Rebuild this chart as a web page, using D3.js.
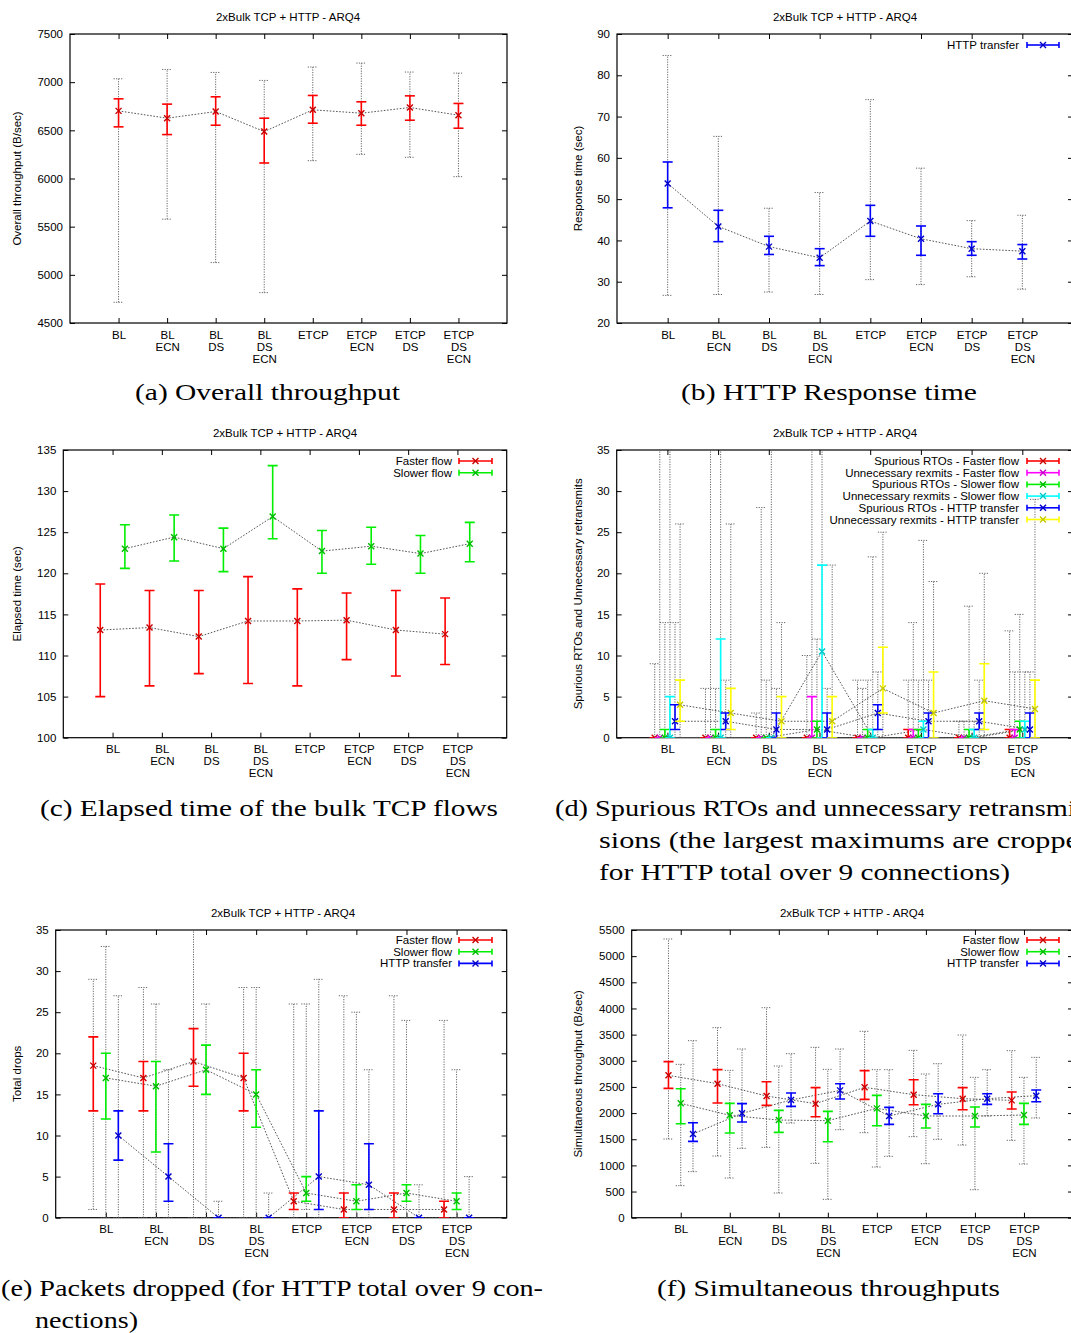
<!DOCTYPE html>
<html>
<head>
<meta charset="utf-8">
<script src="https://cdn.jsdelivr.net/npm/d3@7"></script>
<style>
  body { margin: 0; background: #fff; }
  svg { display: block; }
</style>
</head>
<body>
<svg id="fig" width="1071" height="1333"></svg>
<script>
// ---- categories and titles ----
const categories = [["BL"], ["BL", "ECN"], ["BL", "DS"], ["BL", "DS", "ECN"],
                    ["ETCP"], ["ETCP", "ECN"], ["ETCP", "DS"], ["ETCP", "DS", "ECN"]];
const chartTitle = "2xBulk TCP + HTTP - ARQ4";

// rows per category: [mean, ciLow, ciHigh, min, max]
const overallThroughput = [
  [6702, 6536, 6827, 4715, 7035], [6626, 6456, 6772, 5578, 7132],
  [6695, 6553, 6848, 5127, 7101], [6487, 6161, 6626, 4815, 7018],
  [6713, 6574, 6862, 6185, 7157], [6678, 6553, 6796, 6251, 7198],
  [6737, 6605, 6858, 6220, 7105], [6657, 6522, 6779, 6019, 7094]
];
const httpResponse = [
  [53.8, 47.9, 59.0, 26.7, 84.8], [43.4, 39.7, 47.3, 26.9, 65.2],
  [38.5, 36.6, 41.0, 27.5, 47.8], [35.8, 33.9, 38.0, 26.9, 51.6],
  [44.7, 41.0, 48.5, 30.5, 74.1], [40.4, 36.4, 43.5, 29.3, 57.5],
  [38.0, 36.4, 39.7, 31.2, 44.8], [37.4, 35.5, 39.0, 28.2, 46.1]
];

// rows per category: [mean, ciLow, ciHigh]
const elapsedFaster = [
  [113.1, 105.0, 118.7], [113.4, 106.3, 117.9], [112.3, 107.8, 117.9], [114.2, 106.6, 119.6],
  [114.2, 106.3, 118.1], [114.3, 109.5, 117.6], [113.1, 107.5, 117.9], [112.6, 108.9, 117.0]
];
const elapsedSlower = [
  [123.0, 120.6, 125.9], [124.4, 121.5, 127.1], [123.0, 120.2, 125.5], [126.9, 124.2, 133.1],
  [122.7, 120.0, 125.2], [123.3, 121.1, 125.6], [122.4, 120.0, 124.6], [123.6, 121.4, 126.2]
];

// spurious RTOs / unnecessary retransmits: [mean, ciLow, ciHigh, min, max]
const spuriousFaster = [
  [0, 0, 0, 0, 9], [0, 0, 0, 0, 6], [0, 0, 0, 0, 3], [0, 0, 0, 0, 10],
  [0, 0, 0, 0, 7], [0, 0, 1, 0, 7], [0, 0, 0, 0, 2], [0, 0, 1, 0, 13]
];
const unnecessaryFaster = [
  [0, 0, 0, 0, 40], [0, 0, 0, 0, 40], [0, 0, 0, 0, 28], [0, 0, 5, 0, 40],
  [0, 0, 0, 0, 6], [0, 0, 1, 0, 14], [0, 0, 0, 0, 2], [0, 0, 1, 0, 8]
];
const spuriousSlower = [
  [0, 0, 1, 0, 14], [0, 0, 1, 0, 6], [0, 0, 0, 0, 7], [1, 0, 2, 0, 12],
  [0, 0, 1, 0, 7], [0, 0, 1, 0, 7], [0, 0, 1, 0, 16], [1, 0, 2, 0, 15]
];
const unnecessarySlower = [
  [0, 0, 5, 0, 40], [0, 0, 12, 0, 40], [0, 0, 0, 0, 40], [10.5, 0, 21, 0, 40],
  [0, 0, 1, 0, 22], [1, 0, 2, 0, 24], [0, 0, 1, 0, 2], [1, 0, 2, 0, 8]
];
const spuriousHttp = [
  [2, 1, 4, 0, 14], [2, 1, 3, 0, 7], [1, 0, 3, 0, 6], [1, 0, 3, 0, 6],
  [3, 1, 4, 0, 8], [2, 0, 3, 0, 7], [2, 1, 3, 0, 7], [1, 0, 3, 0, 8]
];
const unnecessaryHttp = [
  [4, 2, 7, 0, 26], [3, 1, 6, 0, 26], [2, 0, 5, 0, 14], [2, 0, 5, 0, 21],
  [6, 3, 11, 0, 25], [3, 0, 8, 0, 19], [4.5, 1, 9, 0, 20], [3.5, 0, 7, 0, 29]
];

// total drops: [mean, ciLow, ciHigh, min, max]
const dropsFaster = [
  [18.5, 13, 22, 1, 29], [17, 13, 19, 0, 28], [19, 16, 23, 0, 35], [17, 13, 20, 0, 28],
  [2, 1, 3, 0, 26], [1, 0, 3, 0, 27], [1, 0, 3, 0, 27], [1, 0, 2, 0, 24]
];
const dropsSlower = [
  [17, 12, 20, 0, 33], [16, 8, 19, 0, 26], [18, 15, 21, 0, 26], [15, 11, 18, 0, 28],
  [3, 2, 5, 1, 26], [2, 1, 4, 0, 25], [3, 2, 4, 0, 24], [2, 1, 3, 0, 18]
];
const dropsHttp = [
  [10, 7, 13, 0, 27], [5, 2, 9, 0, 18], [0, 0, 0, 0, 2], [0, 0, 0, 0, 3],
  [5, 1, 13, 0, 29], [4, 1, 9, 0, 18], [0, 0, 0, 0, 4], [0, 0, 0, 0, 5]
];

// simultaneous throughput (B/sec): [mean, ciLow, ciHigh, min, max]
const simFaster = [
  [2721, 2473, 2983, 1504, 5328], [2562, 2192, 2830, 1179, 3633],
  [2326, 2148, 2600, 1345, 4015], [2180, 1931, 2486, 1039, 3257],
  [2492, 2262, 2811, 1625, 3563], [2352, 2160, 2638, 1549, 3199],
  [2275, 2065, 2486, 1389, 3492], [2243, 2078, 2403, 1479, 3193]
];
const simSlower = [
  [2186, 1797, 2466, 612, 2932], [1957, 1619, 2186, 758, 2817],
  [1867, 1632, 2052, 472, 2900], [1855, 1453, 2033, 351, 2836],
  [2090, 1759, 2339, 969, 2830], [1944, 1714, 2167, 1032, 2747],
  [1944, 1733, 2116, 535, 2683], [1963, 1784, 2186, 1026, 2683]
];
const simHttp = [
  [1600, 1459, 1816, 880, 3384], [1995, 1829, 2180, 1326, 3225],
  [2250, 2129, 2384, 1810, 3136], [2434, 2269, 2562, 1682, 3225],
  [1944, 1784, 2109, 1173, 2830], [2167, 1988, 2371, 1498, 2944],
  [2275, 2167, 2371, 1944, 2830], [2333, 2218, 2441, 1906, 3065]
];

// ---- drawing ----
const SANS = "'Liberation Sans', Arial, Helvetica, sans-serif";
const SERIF = "'Liberation Serif', 'Times New Roman', serif";
const FS = 11.5;
const svg = d3.select("#fig");
const defs = svg.append("defs");

const RED = "#ff0000", GREEN = "#00ee00", BLUE = "#0000ff",
      MAGENTA = "#ff00ff", CYAN = "#00ffff", YELLOW = "#ffff00";

function drawPanel(cfg) {
  const [x0, y0, x1, y1] = cfg.box;
  const x = d3.scaleLinear().domain([-1, 8]).range([x0, x1]);
  const y = d3.scaleLinear().domain(cfg.yDomain).range([y1, y0]);
  const g = svg.append("g");
  const clipId = "clip-" + cfg.id;
  defs.append("clipPath").attr("id", clipId)
    .append("rect").attr("x", x0).attr("y", y0).attr("width", x1 - x0).attr("height", y1 - y0);

  const yTicks = d3.range(cfg.yDomain[0], cfg.yDomain[1] + cfg.yStep / 2, cfg.yStep);
  const styleAxis = sel => {
    sel.select(".domain").remove();
    sel.selectAll(".tick line").attr("stroke", "#000");
    sel.selectAll(".tick text").attr("font-family", SANS).attr("font-size", FS).attr("fill", "#000");
  };

  // y axis (left with labels, right mirrored)
  g.append("g").attr("transform", `translate(${x0},0)`)
    .call(d3.axisLeft(y).tickValues(yTicks).tickFormat(d3.format("d"))
      .tickSizeInner(-5).tickSizeOuter(0).tickPadding(7))
    .call(styleAxis);
  g.append("g").attr("transform", `translate(${x1},0)`)
    .call(d3.axisRight(y).tickValues(yTicks).tickSizeInner(-5).tickSizeOuter(0).tickFormat(""))
    .call(styleAxis);

  // x axis (bottom with multi-line labels, top mirrored)
  const xb = g.append("g").attr("transform", `translate(0,${y1})`)
    .call(d3.axisBottom(x).tickValues(d3.range(categories.length)).tickSizeInner(-5).tickSizeOuter(0).tickFormat(""))
    .call(styleAxis);
  xb.selectAll(".tick text").remove();
  xb.selectAll(".tick").append("text")
    .attr("font-family", SANS).attr("font-size", FS).attr("fill", "#000").attr("text-anchor", "middle")
    .each(function (i) {
      d3.select(this).selectAll("tspan").data(categories[i]).join("tspan")
        .attr("x", 0).attr("y", (d, k) => 15.5 + k * 12).text(d => d);
    });
  g.append("g").attr("transform", `translate(0,${y0})`)
    .call(d3.axisTop(x).tickValues(d3.range(categories.length)).tickSizeInner(-5).tickSizeOuter(0).tickFormat(""))
    .call(styleAxis);

  // frame
  g.append("rect").attr("x", x0).attr("y", y0).attr("width", x1 - x0).attr("height", y1 - y0)
    .attr("fill", "none").attr("stroke", "#000").attr("stroke-width", 1.2);

  // title and y label
  g.append("text").attr("x", cfg.titleX).attr("y", cfg.titleY).attr("text-anchor", "middle")
    .attr("font-family", SANS).attr("font-size", FS).text(chartTitle);
  g.append("text").attr("transform", `translate(${cfg.yLabelX},${(y0 + y1) / 2}) rotate(-90)`)
    .attr("text-anchor", "middle").attr("font-family", SANS).attr("font-size", FS).text(cfg.yLabel);

  const plot = g.append("g").attr("clip-path", `url(#${clipId})`);
  const cap = 5;

  // min/max ranges (dotted grey)
  cfg.series.forEach(s => {
    if (s.data[0].length < 5) return;
    const gr = plot.append("g").attr("stroke", "#666").attr("stroke-width", 1)
      .attr("stroke-dasharray", "1.2,1.3").attr("fill", "none");
    s.data.forEach((d, i) => {
      const cx = x(i + s.offset);
      gr.append("line").attr("x1", cx).attr("x2", cx).attr("y1", y(d[3])).attr("y2", y(d[4]));
      gr.append("line").attr("x1", cx - cap).attr("x2", cx + cap).attr("y1", y(d[3])).attr("y2", y(d[3]));
      gr.append("line").attr("x1", cx - cap).attr("x2", cx + cap).attr("y1", y(d[4])).attr("y2", y(d[4]));
    });
  });

  // connecting lines of the means
  cfg.series.forEach(s => {
    plot.append("path").datum(s.data)
      .attr("d", d3.line().x((d, i) => x(i + s.offset)).y(d => y(d[0])))
      .attr("fill", "none").attr("stroke", "#555").attr("stroke-width", 1)
      .attr("stroke-dasharray", "1.6,1.6");
  });

  // confidence intervals and mean markers
  cfg.series.forEach(s => {
    const gc = plot.append("g").attr("stroke", s.color).attr("stroke-width", 1.6).attr("fill", "none");
    s.data.forEach((d, i) => {
      const cx = x(i + s.offset);
      gc.append("line").attr("x1", cx).attr("x2", cx).attr("y1", y(d[1])).attr("y2", y(d[2]));
      gc.append("line").attr("x1", cx - cap).attr("x2", cx + cap).attr("y1", y(d[1])).attr("y2", y(d[1]));
      gc.append("line").attr("x1", cx - cap).attr("x2", cx + cap).attr("y1", y(d[2])).attr("y2", y(d[2]));
      gc.append("path").attr("transform", `translate(${cx},${y(d[0])})`)
        .attr("d", "M-3,-3L3,3M-3,3L3,-3").attr("stroke", d3.color(s.color).darker(0.7)).attr("stroke-width", 1.4);
    });
  });

  // key
  if (cfg.legend) {
    const L = cfg.legend;
    cfg.series.forEach((s, k) => {
      const ly = L.y + k * 11.7;
      g.append("text").attr("x", L.textRight).attr("y", ly).attr("dy", "0.35em")
        .attr("text-anchor", "end").attr("font-family", SANS).attr("font-size", FS).text(s.name);
      const lg = g.append("g").attr("stroke", s.color).attr("stroke-width", 1.6);
      lg.append("line").attr("x1", L.s0).attr("x2", L.s1).attr("y1", ly).attr("y2", ly);
      lg.append("line").attr("x1", L.s0).attr("x2", L.s0).attr("y1", ly - 3).attr("y2", ly + 3);
      lg.append("line").attr("x1", L.s1).attr("x2", L.s1).attr("y1", ly - 3).attr("y2", ly + 3);
      const mx = (L.s0 + L.s1) / 2;
      lg.append("path").attr("transform", `translate(${mx},${ly})`)
        .attr("d", "M-3,-3L3,3M-3,3L3,-3").attr("stroke", d3.color(s.color).darker(0.7)).attr("stroke-width", 1.4);
    });
  }
}

drawPanel({
  id: "a", box: [70, 34, 507, 323], yDomain: [4500, 7500], yStep: 500,
  yLabel: "Overall throughput (B/sec)", yLabelX: 21, titleX: 288, titleY: 21,
  series: [{ name: "", color: RED, data: overallThroughput, offset: 0 }]
});

drawPanel({
  id: "b", box: [617, 34, 1073, 323], yDomain: [20, 90], yStep: 10,
  yLabel: "Response time (sec)", yLabelX: 582, titleX: 845, titleY: 21,
  series: [{ name: "HTTP transfer", color: BLUE, data: httpResponse, offset: 0 }],
  legend: { y: 45, textRight: 1019, s0: 1027, s1: 1059 }
});

drawPanel({
  id: "c", box: [63.3, 450, 506.7, 737.7], yDomain: [100, 135], yStep: 5,
  yLabel: "Elapsed time (sec)", yLabelX: 20.5, titleX: 285, titleY: 437,
  series: [
    { name: "Faster flow", color: RED, data: elapsedFaster, offset: -0.25 },
    { name: "Slower flow", color: GREEN, data: elapsedSlower, offset: 0.25 }
  ],
  legend: { y: 461, textRight: 452, s0: 459, s1: 492 }
});

drawPanel({
  id: "d", box: [616.7, 450, 1073, 737.7], yDomain: [0, 35], yStep: 5,
  yLabel: "Spurious RTOs and Unnecessary retransmits", yLabelX: 582, titleX: 845, titleY: 437,
  series: [
    { name: "Spurious RTOs - Faster flow", color: RED, data: spuriousFaster, offset: -0.25 },
    { name: "Unnecessary rexmits - Faster flow", color: MAGENTA, data: unnecessaryFaster, offset: -0.15 },
    { name: "Spurious RTOs - Slower flow", color: GREEN, data: spuriousSlower, offset: -0.05 },
    { name: "Unnecessary rexmits - Slower flow", color: CYAN, data: unnecessarySlower, offset: 0.05 },
    { name: "Spurious RTOs - HTTP transfer", color: BLUE, data: spuriousHttp, offset: 0.15 },
    { name: "Unnecessary rexmits - HTTP transfer", color: YELLOW, data: unnecessaryHttp, offset: 0.25 }
  ],
  legend: { y: 461, textRight: 1019, s0: 1027, s1: 1059 }
});

drawPanel({
  id: "e", box: [55.7, 930, 506.7, 1217.7], yDomain: [0, 35], yStep: 5,
  yLabel: "Total drops", yLabelX: 20.5, titleX: 283, titleY: 917,
  series: [
    { name: "Faster flow", color: RED, data: dropsFaster, offset: -0.25 },
    { name: "Slower flow", color: GREEN, data: dropsSlower, offset: 0 },
    { name: "HTTP transfer", color: BLUE, data: dropsHttp, offset: 0.25 }
  ],
  legend: { y: 940, textRight: 452, s0: 459, s1: 492 }
});

drawPanel({
  id: "f", box: [631.7, 930, 1073, 1217.7], yDomain: [0, 5500], yStep: 500,
  yLabel: "Simultaneous throughput (B/sec)", yLabelX: 582, titleX: 852, titleY: 917,
  series: [
    { name: "Faster flow", color: RED, data: simFaster, offset: -0.25 },
    { name: "Slower flow", color: GREEN, data: simSlower, offset: 0 },
    { name: "HTTP transfer", color: BLUE, data: simHttp, offset: 0.25 }
  ],
  legend: { y: 940, textRight: 1019, s0: 1027, s1: 1059 }
});

// ---- sub-figure captions ----
const captions = [
  { text: "(a) Overall throughput", x: 135, y: 400, w: 265 },
  { text: "(b) HTTP Response time", x: 681, y: 400, w: 296 },
  { text: "(c) Elapsed time of the bulk TCP flows", x: 40, y: 816, w: 458 },
  { text: "(d) Spurious RTOs and unnecessary retransmis-", x: 555, y: 816, w: 541 },
  { text: "sions (the largest maximums are cropped", x: 599, y: 848, w: 495 },
  { text: "for HTTP total over 9 connections)", x: 599, y: 880, w: 411 },
  { text: "(e) Packets dropped (for HTTP total over 9 con-", x: 1, y: 1296, w: 542 },
  { text: "nections)", x: 35, y: 1328, w: 103 },
  { text: "(f) Simultaneous throughputs", x: 657, y: 1296, w: 343 }
];
svg.append("g").selectAll("text").data(captions).join("text")
  .attr("x", d => d.x).attr("y", d => d.y)
  .attr("font-family", SERIF).attr("font-size", 24).attr("fill", "#000")
  .attr("textLength", d => d.w).attr("lengthAdjust", "spacingAndGlyphs")
  .text(d => d.text);
</script>
</body>
</html>
